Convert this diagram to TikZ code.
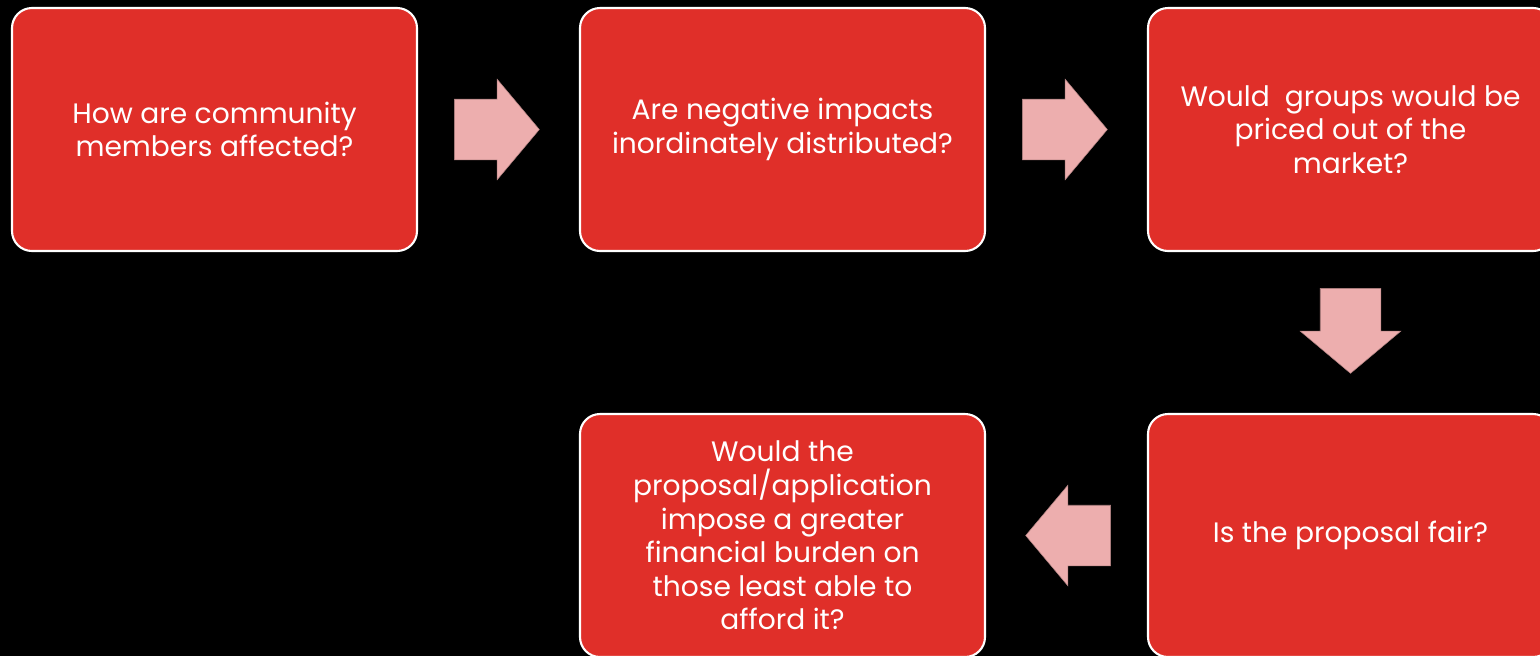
\documentclass[tikz,border=0pt]{standalone}
\usepackage{fontspec}
\setmainfont{Poppins}
\usetikzlibrary{shapes.arrows}
\definecolor{boxred}{HTML}{E02F29}
\definecolor{arrowpink}{HTML}{EDAEAE}

\begin{document}
\begin{tikzpicture}[
  qbox/.style={rectangle, rounded corners=0.4cm, fill=boxred, draw=white, line width=1.2pt,
    minimum width=8.1cm, minimum height=4.86cm, align=center, text=white,
    font=\fontsize{16}{19.1}\selectfont},
  flow/.style={single arrow, fill=arrowpink, draw=arrowpink!75!black, line width=0.3pt,
    inner xsep=0pt, inner ysep=0.6cm, minimum height=1.7cm, anchor=tail,
    single arrow head extend=0.4cm, single arrow tip angle=100},
  flowdown/.style={flow, inner xsep=0.6cm, inner ysep=0pt, shape border rotate=270}]
  \fill[black] (0,0) rectangle (30.8,-13.12);
  \useasboundingbox (0,0) rectangle (30.8,-13.12);
  % question boxes
  \node[qbox] (q1) at (4.29,-2.59) {How are community\\members affected?};
  \node[qbox] (q2) at (15.65,-2.59) {Are negative impacts\\inordinately distributed?};
  \node[qbox] (q3) at (27.01,-2.59) {Would~ groups would be\\priced out of the\\market?};
  \node[qbox] (q5) at (27.01,-10.71) {Is the proposal fair?};
  \node[qbox] (q4) at (15.65,-10.71) {Would the\\proposal/application\\impose a greater\\financial burden on\\those least able to\\afford it?};
  % block arrows
  \node[flow] (a1) at ([xshift=0.72cm]q1.east) {};
  \node[flow] (a2) at ([xshift=0.72cm]q2.east) {};
  \node[flowdown] (a3) at ([yshift=-0.72cm]q3.south) {};
  \node[flow, shape border rotate=180] (a4) at ([xshift=-0.72cm]q5.west) {};
\end{tikzpicture}
\end{document}
